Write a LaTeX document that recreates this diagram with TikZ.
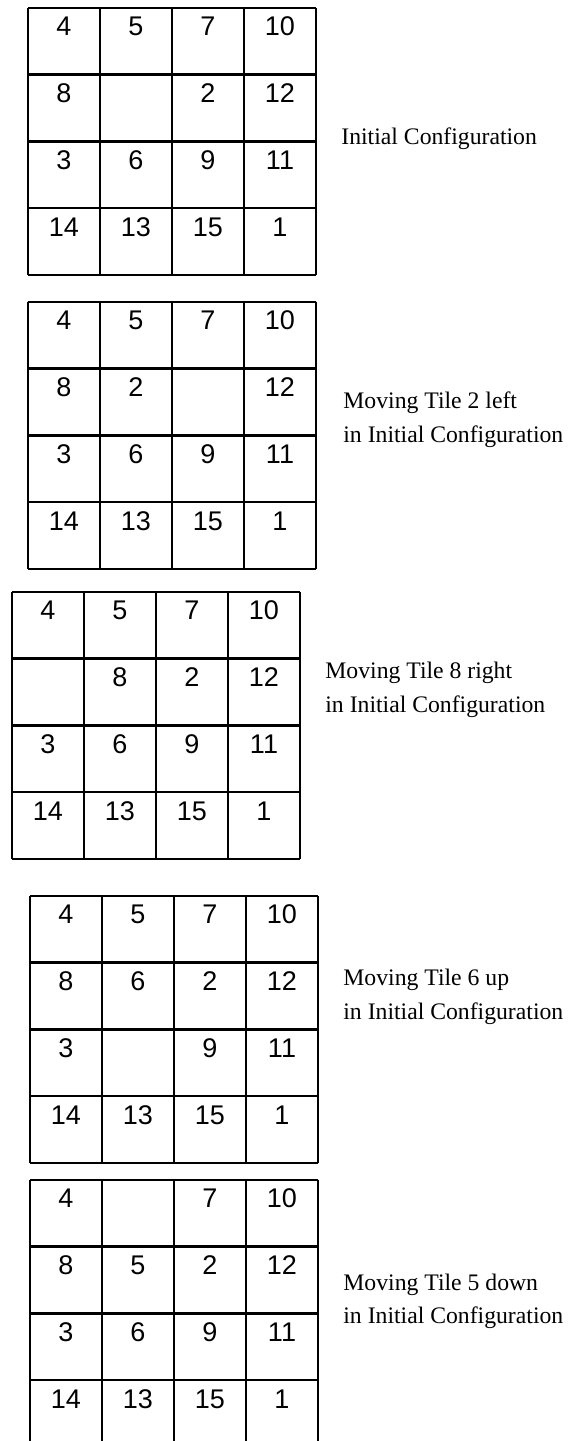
\documentclass[tikz,border=0pt]{standalone}
\usepackage{fontspec}
\setmainfont{Liberation Serif}
\newfontfamily\tilefamily{Liberation Sans}
\newcommand{\tilefont}{\tilefamily\fontsize{13.5}{16}\selectfont}
\newcommand{\capfont}{\fontsize{11.85}{17}\selectfont}

\begin{document}
\begin{tikzpicture}[x=0.5pt,y=0.5pt,
  gridline/.style={line width=1.25pt},
  tile/.style={anchor=base,inner sep=0pt,font=\tilefont},
  caption/.style={anchor=base west,inner sep=0pt,align=left,font=\capfont}]
  \useasboundingbox (0,0) rectangle (578,1441);

  % Initial configuration
  \begin{scope}[shift={(28,1433)}]
    \draw[gridline] (0,-267) grid[xstep=72,ystep=66.75] (288,0);
    \foreach \v [count=\i from 0] in {4,5,7,10,8,,2,12,3,6,9,11,14,13,15,1} {
      \ifx\v\empty\else
        \pgfmathtruncatemacro\col{mod(\i,4)}
        \pgfmathtruncatemacro\row{\i/4}
        \node[tile] (ini-\i) at (36+72*\col,-28-66.75*\row) {\v};
      \fi
    }
    \node[caption] (cap-ini) at (313,-137) {Initial Configuration};
  \end{scope}

  % Tile 2 moved left
  \begin{scope}[shift={(28,1139)}]
    \draw[gridline] (0,-267) grid[xstep=72,ystep=66.75] (288,0);
    \foreach \v [count=\i from 0] in {4,5,7,10,8,2,,12,3,6,9,11,14,13,15,1} {
      \ifx\v\empty\else
        \pgfmathtruncatemacro\col{mod(\i,4)}
        \pgfmathtruncatemacro\row{\i/4}
        \node[tile] (left-\i) at (36+72*\col,-28-66.75*\row) {\v};
      \fi
    }
    \node[caption] (cap-left) at (315,-141) {Moving Tile 2 left\\in Initial Configuration};
  \end{scope}

  % Tile 8 moved right
  \begin{scope}[shift={(12,849)}]
    \draw[gridline] (0,-267) grid[xstep=72,ystep=66.75] (288,0);
    \foreach \v [count=\i from 0] in {4,5,7,10,,8,2,12,3,6,9,11,14,13,15,1} {
      \ifx\v\empty\else
        \pgfmathtruncatemacro\col{mod(\i,4)}
        \pgfmathtruncatemacro\row{\i/4}
        \node[tile] (right-\i) at (36+72*\col,-28-66.75*\row) {\v};
      \fi
    }
    \node[caption] (cap-right) at (313,-121) {Moving Tile 8 right\\in Initial Configuration};
  \end{scope}

  % Tile 6 moved up
  \begin{scope}[shift={(30,545)}]
    \draw[gridline] (0,-267) grid[xstep=72,ystep=66.75] (288,0);
    \foreach \v [count=\i from 0] in {4,5,7,10,8,6,2,12,3,,9,11,14,13,15,1} {
      \ifx\v\empty\else
        \pgfmathtruncatemacro\col{mod(\i,4)}
        \pgfmathtruncatemacro\row{\i/4}
        \node[tile] (up-\i) at (36+72*\col,-28-66.75*\row) {\v};
      \fi
    }
    \node[caption] (cap-up) at (313,-124) {Moving Tile 6 up\\in Initial Configuration};
  \end{scope}

  % Tile 5 moved down
  \begin{scope}[shift={(30,261)}]
    \draw[gridline] (0,-267) grid[xstep=72,ystep=66.75] (288,0);
    \foreach \v [count=\i from 0] in {4,,7,10,8,5,2,12,3,6,9,11,14,13,15,1} {
      \ifx\v\empty\else
        \pgfmathtruncatemacro\col{mod(\i,4)}
        \pgfmathtruncatemacro\row{\i/4}
        \node[tile] (down-\i) at (36+72*\col,-28-66.75*\row) {\v};
      \fi
    }
    \node[caption] (cap-down) at (313,-144) {Moving Tile 5 down\\in Initial Configuration};
  \end{scope}
\end{tikzpicture}
\end{document}
